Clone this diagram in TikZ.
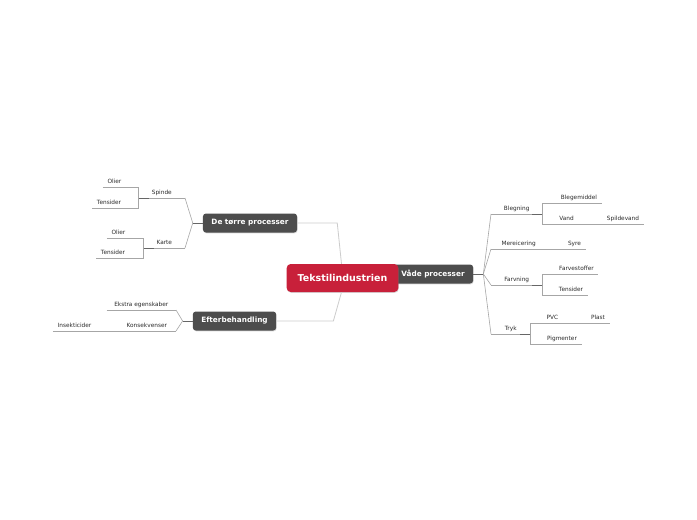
\documentclass[tikz,border=0pt]{standalone}
\usepackage{fontspec}
\setsansfont{DejaVu Sans}
\usetikzlibrary{positioning,shadows}
\definecolor{rootred}{HTML}{C8203A}
\definecolor{topicgray}{HTML}{4D4D4D}
\definecolor{trunkgray}{HTML}{CCCCCC}
\definecolor{twiggray}{HTML}{A6A6A6}
\definecolor{stubgray}{HTML}{666666}
\definecolor{leaftext}{HTML}{2B2B2B}

\begin{document}
\begin{tikzpicture}[
    x=1pt,y=-1pt,
    every node/.style={font=\sffamily},
    rootnode/.style={
        rounded corners=4pt,
        fill=rootred,
        text=white,
        font=\sffamily\fontsize{9.5}{11}\selectfont\bfseries,
        minimum height=28pt,
        inner xsep=11pt,
        drop shadow={shadow xshift=0.5pt,shadow yshift=-0.8pt,opacity=0.3},
    },
    topicnode/.style={
        rounded corners=3pt,
        fill=topicgray,
        text=white,
        font=\sffamily\fontsize{7.3}{9}\selectfont\bfseries,
        minimum height=19pt,
        inner xsep=8.5pt,
        drop shadow={shadow xshift=0.5pt,shadow yshift=-0.8pt,opacity=0.3},
    },
    leaf/.style={
        text=leaftext,
        font=\sffamily\fontsize{5.8}{7}\selectfont,
        inner xsep=4.5pt,
        inner ysep=3pt,
        text height=4.5pt,
        text depth=0pt,
    },
    trunk/.style={line width=0.8pt,color=trunkgray},
    twig/.style={line width=0.6pt,color=twiggray},
    stub/.style={line width=0.9pt,color=stubgray},
]

\useasboundingbox[fill=white] (0,0) rectangle (697,520);

% === Main topics ===
\node[topicnode] (wet) at (433,274) {Våde processer};
\node[rootnode] (root) at (342.5,278) {Tekstilindustrien};
\node[topicnode] (dry) at (250,223) {De tørre processer};
\node[topicnode] (after) at (234.5,321) {Efterbehandling};

\draw[trunk] (dry.east) -- ++(40,0) -- ([xshift=-1pt]root.north);
\draw[trunk] (after.east) -- ++(57,0) -- ([xshift=-1pt]root.south);

% === Wet processes ===
\node[leaf,anchor=south west,minimum width=51pt] (bleg) at (491,214) {Blegning};
\node[leaf,anchor=south] (blegmid) at (579,203) {Blegemiddel};
\node[leaf,anchor=south] (vand) at (566.5,224) {Vand};
\node[leaf,anchor=south] (spilde) at (623,224) {Spildevand};
\node[leaf,anchor=south west,minimum width=55pt] (merc) at (491,249) {Mereicering};
\node[leaf,anchor=south] (syre) at (574.5,249) {Syre};
\node[leaf,anchor=south west,minimum width=51pt] (farv) at (491,285) {Farvning};
\node[leaf,anchor=south] (farvstof) at (576.5,274) {Farvestoffer};
\node[leaf,anchor=south] (tenswet) at (571,295) {Tensider};
\node[leaf,anchor=south west,minimum width=39pt] (tryk) at (491,334) {Tryk};
\node[leaf,anchor=south] (pvc) at (552.5,323) {PVC};
\node[leaf,anchor=south] (plast) at (598,323) {Plast};
\node[leaf,anchor=south] (pigm) at (562,344) {Pigmenter};

\draw[stub] (wet.east) -- ++(10,0) coordinate (wetfork);
\foreach \n in {bleg,merc,farv,tryk}
    \draw[twig] (wetfork) -- (\n.south west);
\draw[twig] (bleg.south east) |- (blegmid.south west);
\draw[twig] (bleg.south east) |- (vand.south west);
\draw[twig] (vand.south east) -- (spilde.south west);
\draw[twig] (merc.south east) -- (syre.south west);
\draw[twig] (farv.south east) |- (farvstof.south west);
\draw[twig] (farv.south east) |- (tenswet.south west);
\draw[twig] (tryk.south east) |- (pvc.south west);
\draw[twig] (tryk.south east) |- (pigm.south west);
\draw[twig] (pvc.south east) -- (plast.south west);

% === Dry processes ===
\node[leaf,anchor=south east,minimum width=46pt] (spinde) at (185,198) {Spinde};
\node[leaf,anchor=south] (olier1) at (114.5,187) {Olier};
\node[leaf,anchor=south] (tens1) at (109,208) {Tensider};
\node[leaf,anchor=south east,minimum width=41pt] (karte) at (185,248) {Karte};
\node[leaf,anchor=south] (olier2) at (118.5,238) {Olier};
\node[leaf,anchor=south] (tens2) at (113,258) {Tensider};

\draw[stub] (dry.west) -- ++(-10,0) coordinate (dryfork);
\foreach \n in {spinde,karte}
    \draw[twig] (dryfork) -- (\n.south east);
\draw[twig] (spinde.south west) |- (olier1.south east);
\draw[twig] (spinde.south west) |- (tens1.south east);
\draw[twig] (karte.south west) |- (olier2.south east);
\draw[twig] (karte.south west) |- (tens2.south east);

% === Finishing ===
\node[leaf,anchor=south east,minimum width=69pt] (ekstra) at (176,310) {Ekstra egenskaber};
\node[leaf,anchor=south east,minimum width=58pt] (konsek) at (176,331) {Konsekvenser};
\node[leaf,anchor=south] (insekt) at (74.5,331) {Insekticider};

\draw[stub] (after.west) -- ++(-10,0) coordinate (afterfork);
\foreach \n in {ekstra,konsek}
    \draw[twig] (afterfork) -- (\n.south east);
\draw[twig] (konsek.south west) -- (insekt.south east);

% === Underlines ===
\foreach \n in {bleg,blegmid,vand,spilde,merc,syre,farv,farvstof,tenswet,tryk,pvc,plast,pigm,
    spinde,olier1,tens1,karte,olier2,tens2,ekstra,konsek,insekt}
    \draw[twig] (\n.south west) -- (\n.south east);
\foreach \n in {bleg,farv,tryk}
    \draw[stub] (\n.south east) -- ++(-10,0);
\foreach \n in {spinde,karte}
    \draw[stub] (\n.south west) -- ++(10,0);

\end{tikzpicture}
\end{document}
